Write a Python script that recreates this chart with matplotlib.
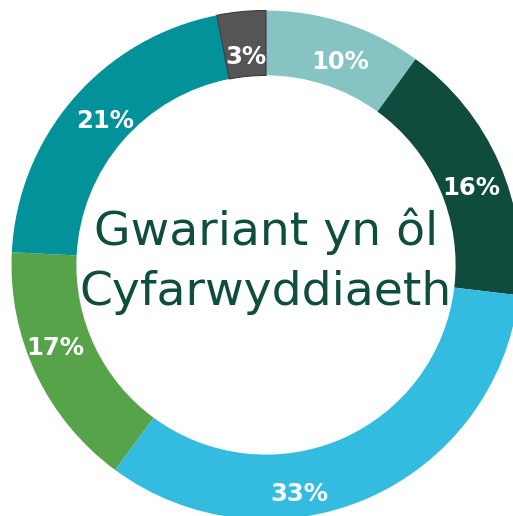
import numpy as np
import matplotlib.pyplot as plt

labels = ["10%", "16%", "33%", "17%", "21%", "3%"]
shares = [10.0, 16.9, 33.2, 15.7, 21.1, 3.1]
colors = ["#86c4c4", "#0f4c3d", "#33bbe0", "#57a34a", "#03929a", "#555555"]
title_lines = ["Gwariant yn ôl", "Cyfarwyddiaeth"]

# label nudges (degrees clockwise, radius) relative to wedge middle
label_shift = [2, 3, 15, 4, 1, 0]
label_r = [0.85, 0.86, 0.91, 0.89, 0.85, 0.82]

fig = plt.figure(figsize=(5.13, 5.16), dpi=100)
ax = fig.add_axes([0, 0, 1, 1])

wedges, _ = ax.pie(shares, colors=colors, startangle=90, counterclock=False,
                   radius=1.0, wedgeprops=dict(width=0.255, linewidth=0))
wedges[-1].set_edgecolor("#3a3a3a")
wedges[-1].set_linewidth(0.8)

R = 254.5  # px per data unit
ax.set_xlim(-266 / R, (513 - 266) / R)
ax.set_ylim(-(516 - 265) / R, 265 / R)
ax.set_aspect("equal")
ax.axis("off")

for w, lab, sh, r in zip(wedges, labels, label_shift, label_r):
    mid = (w.theta1 + w.theta2) / 2 - sh
    x, y = r * np.cos(np.radians(mid)), r * np.sin(np.radians(mid))
    ax.text(x, y, lab, ha="center", va="center", color="white",
            fontsize=17.5, fontweight="bold", family="DejaVu Sans")

# centre title, two lines on their own baselines
for line, yb in zip(title_lines, [0.079, -0.157]):
    ax.text(0.0, yb, line, ha="center", va="baseline", color="#0f4d3f",
            fontsize=34, family="DejaVu Sans")

fig.savefig("out.png", dpi=100)
